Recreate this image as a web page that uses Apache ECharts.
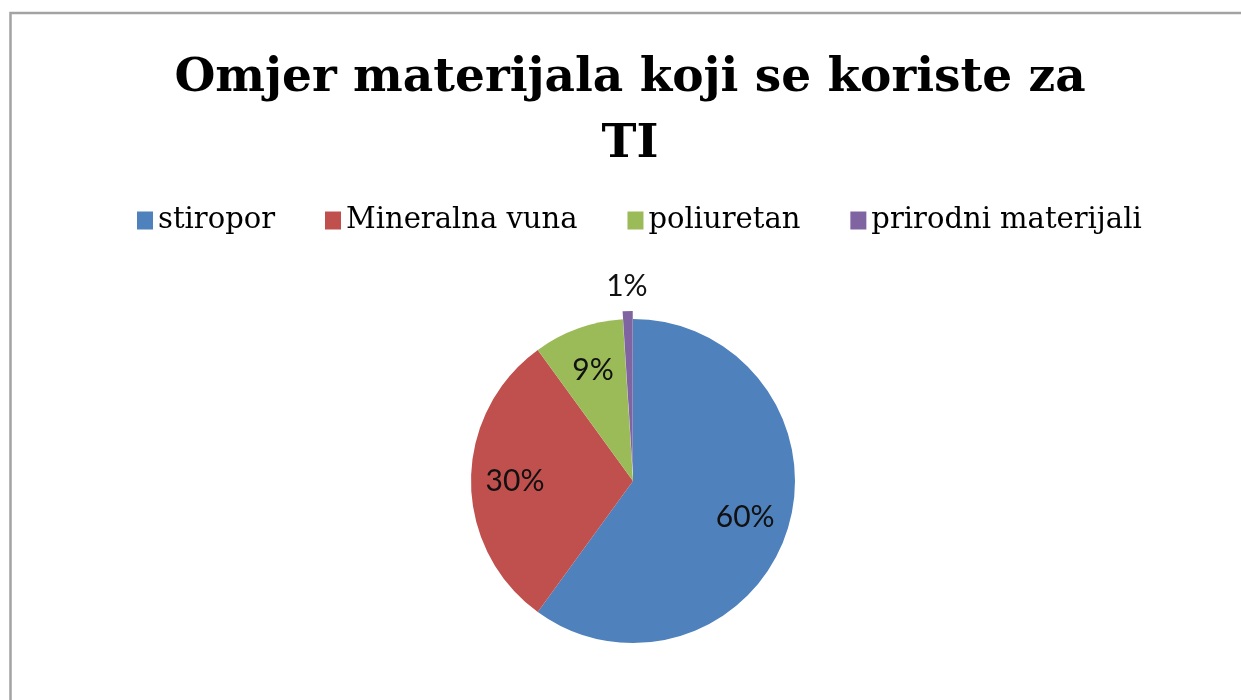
<!DOCTYPE html>
<html>
<head>
<meta charset="utf-8">
<script src="https://cdn.jsdelivr.net/npm/echarts@6/dist/echarts.min.js"></script>
<style>
html, body { margin: 0; padding: 0; background: #fff; }
#chart { width: 1241px; height: 700px; }
</style>
</head>
<body>
<div id="chart"></div>
<script>
// podaci
var materials = ['stiropor', 'Mineralna vuna', 'poliuretan', 'prirodni materijali'];
var shares = [60, 30, 9, 1];
var colors = ['#4F81BD', '#C0504D', '#9BBB59', '#8064A2'];
var titleText = 'Omjer materijala koji se koriste za\nTI';

var chart = echarts.init(document.getElementById('chart'));

var center = [633, 481];
var radius = 162;

// glavni krug
var pieData = materials.map(function (name, i) {
    var item = { name: name, value: shares[i], itemStyle: { color: colors[i] } };
    if (shares[i] < 5) item.selected = true;
    return item;
});

// oznake unutar kriske i izvan za male vrijednosti
function labelData(small) {
    return materials.map(function (name, i) {
        var isSmall = shares[i] < 5;
        return {
            name: name,
            value: shares[i],
            label: { show: small ? isSmall : !isSmall }
        };
    });
}

var labelStyle = {
    position: 'inside',
    formatter: '{d}%',
    color: '#111',
    fontFamily: 'Lato',
    fontSize: 30
};

chart.setOption({
    animation: false,
    graphic: [{
        type: 'rect',
        shape: { x: 10.5, y: 13, width: 1400, height: 900 },
        style: { fill: 'none', stroke: '#a3a3a3', lineWidth: 2.5 },
        silent: true
    }],
    title: {
        text: titleText,
        left: 630,
        top: 46,
        padding: 0,
        textAlign: 'center',
        textStyle: {
            fontFamily: 'DejaVu Serif',
            fontWeight: 'bold',
            fontSize: 47,
            lineHeight: 66,
            color: '#000'
        }
    },
    legend: {
        data: materials,
        top: 206,
        left: 137,
        padding: 0,
        icon: 'rect',
        itemWidth: 16,
        itemHeight: 18,
        itemGap: 50,
        textStyle: {
            fontFamily: 'DejaVu Serif',
            fontSize: 29,
            color: '#000'
        }
    },
    series: [{
        type: 'pie',
        name: 'main',
        center: center,
        radius: radius,
        startAngle: 90,
        clockwise: true,
        selectedMode: 'single',
        selectedOffset: 8,
        label: { show: false },
        labelLine: { show: false },
        emphasis: { disabled: true },
        data: pieData
    }, {
        type: 'pie',
        name: 'labels',
        center: center,
        radius: [105, 125],
        startAngle: 90,
        silent: true,
        itemStyle: { color: 'rgba(0,0,0,0)' },
        label: labelStyle,
        labelLine: { show: false },
        data: labelData(false)
    }, {
        type: 'pie',
        name: 'outerLabels',
        center: center,
        radius: [182, 202],
        startAngle: 90,
        silent: true,
        itemStyle: { color: 'rgba(0,0,0,0)' },
        label: labelStyle,
        labelLine: { show: false },
        data: labelData(true)
    }]
});
</script>
</body>
</html>
